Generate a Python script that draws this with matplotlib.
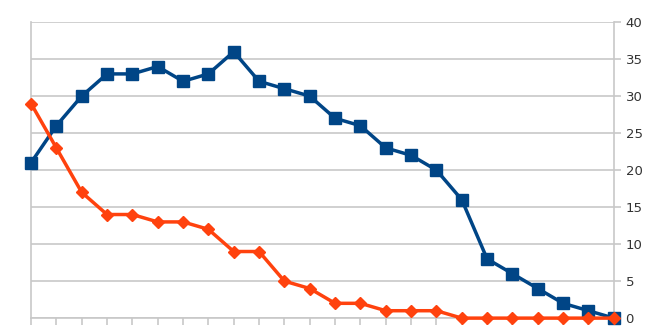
import matplotlib.pyplot as plt

blue_vals = [21, 26, 30, 33, 33, 34, 32, 33, 36, 32, 31, 30, 27, 26, 23, 22, 20, 16, 8, 6, 4, 2, 1, 0]
orange_vals = [29, 23, 17, 14, 14, 13, 13, 12, 9, 9, 5, 4, 2, 2, 1, 1, 1, 0, 0, 0, 0, 0, 0, 0]
y_ticks = [0, 5, 10, 15, 20, 25, 30, 35, 40]


def main():
    fig = plt.figure(figsize=(6.6, 3.3), dpi=100)
    ax = fig.add_axes([0.047, 0.036, 0.883, 0.897])
    x = list(range(len(blue_vals)))

    for y in y_ticks:
        ax.axhline(y, color="#c8c8c8", lw=1.2, zorder=0)

    # orange sits on top of blue in the original
    ax.plot(x, blue_vals, color="#004586", lw=2.5, marker="s", ms=8.5, zorder=3, clip_on=False)
    ax.plot(x, orange_vals, color="#ff420e", lw=2.5, marker="D", ms=6, zorder=4, clip_on=False)

    ax.set_xlim(0, len(x) - 1)
    ax.set_ylim(0, 40)
    ax.set_xticks(x)
    ax.set_xticklabels([])
    ax.yaxis.tick_right()
    ax.set_yticks(y_ticks)
    ax.tick_params(axis="y", colors="#c8c8c8", labelcolor="#333333", labelsize=9.5, length=5, width=1.2)
    ax.tick_params(axis="x", colors="#c8c8c8", length=5, width=1.2)

    ax.spines["top"].set_visible(False)
    for side in ["left", "right", "bottom"]:
        ax.spines[side].set_color("#c8c8c8")
        ax.spines[side].set_linewidth(1.2)

    fig.savefig("out.png", dpi=100)


main()
